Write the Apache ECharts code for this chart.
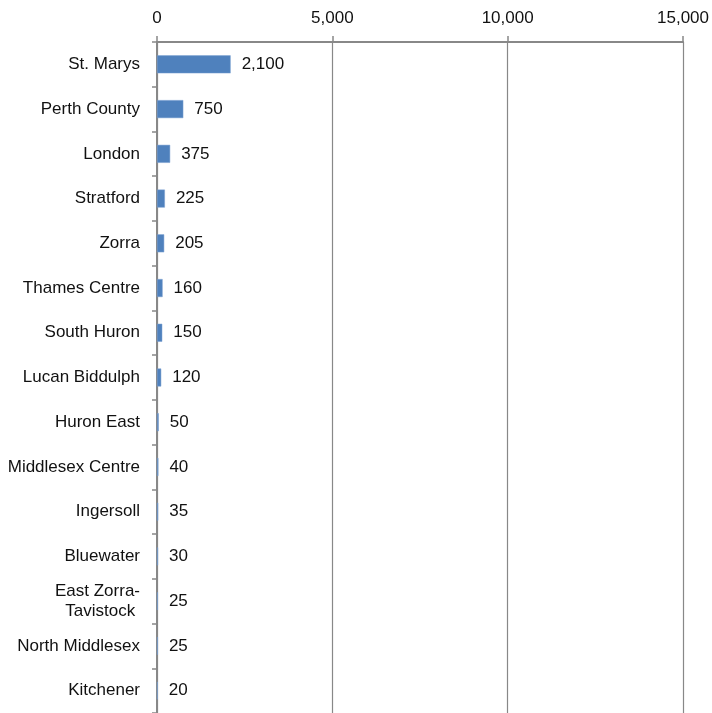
<!DOCTYPE html>
<html>
<head>
<meta charset="utf-8">
<script src="https://cdn.jsdelivr.net/npm/echarts@6/dist/echarts.min.js"></script>
<style>html,body{margin:0;padding:0;background:#fff;}#c{width:712px;height:713px;}</style>
</head>
<body>
<div id="c"></div>
<script>
const categories = ["St. Marys","Perth County","London","Stratford","Zorra","Thames Centre","South Huron","Lucan Biddulph","Huron East","Middlesex Centre","Ingersoll","Bluewater","East Zorra-\nTavistock ","North Middlesex","Kitchener"];
const values = [2100,750,375,225,205,160,150,120,50,40,35,30,25,25,20];
const xTicks = [0,5000,10000,15000];

const chart = echarts.init(document.getElementById('c'));
const font = 'Liberation Sans, Arial, Helvetica, sans-serif';
chart.setOption({
  animation: false,
  grid: {left: 157, top: 42, width: 527, height: 673, containLabel: false},
  xAxis: {
    type: 'value', position: 'top', min: xTicks[0], max: xTicks[xTicks.length-1], interval: 5000,
    axisLine: {show: true, lineStyle: {color: '#888', width: 2}},
    axisTick: {show: true, length: 6, lineStyle: {color: '#888', width: 1.5}},
    splitLine: {show: true, lineStyle: {color: '#888', width: 1.2}},
    axisLabel: {color: '#111', fontSize: 17, fontFamily: font, margin: 15,
      formatter: v => v.toLocaleString('en-US')}
  },
  yAxis: {
    type: 'category', inverse: true, data: categories,
    axisLine: {show: true, lineStyle: {color: '#888', width: 2}},
    axisTick: {show: true, length: 5, lineStyle: {color: '#888', width: 1.5}},
    axisLabel: {color: '#111', fontSize: 17, fontFamily: font, margin: 17, lineHeight: 20, align: 'right', padding: [2,0,0,0]}
  },
  series: [{
    type: 'bar', data: values, barWidth: 18,
    itemStyle: {color: '#4f81bd', borderColor: '#7fa3d3', borderWidth: 0.5},
    label: {show: true, position: 'right', distance: 11, color: '#111', fontSize: 17, fontFamily: font, padding: [2,0,0,0],
      formatter: p => p.value.toLocaleString('en-US')}
  }]
});
</script>
</body>
</html>
